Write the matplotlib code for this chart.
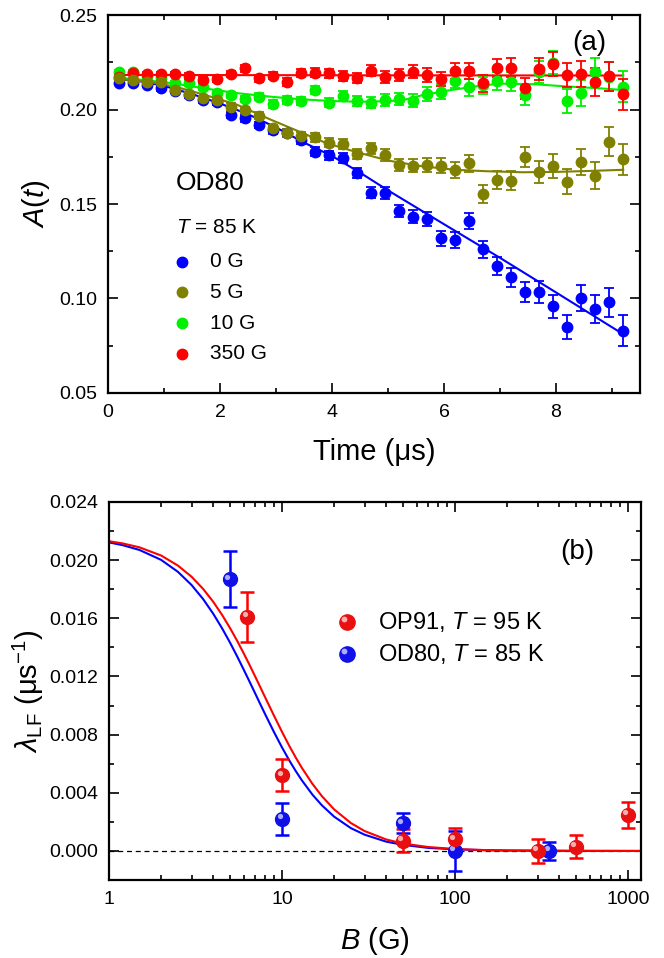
import numpy as np
import matplotlib
matplotlib.use("Agg")
import matplotlib.pyplot as plt
from matplotlib import transforms
from matplotlib.ticker import MultipleLocator, FixedLocator, LogLocator, NullFormatter, FuncFormatter

plt.rcParams['font.family'] = ['Liberation Sans', 'DejaVu Sans']
plt.rcParams['mathtext.fontset'] = 'custom'
plt.rcParams['mathtext.rm'] = 'Liberation Sans'
plt.rcParams['mathtext.it'] = 'Liberation Sans:italic'

# ---------------- panel (a): asymmetry vs time ----------------
time_us = [0.2, 0.45, 0.7, 0.95, 1.2, 1.45, 1.7, 1.95, 2.2, 2.45, 2.7, 2.95,
           3.2, 3.45, 3.7, 3.95, 4.2, 4.45, 4.7, 4.95, 5.2, 5.45, 5.7, 5.95,
           6.2, 6.45, 6.7, 6.95, 7.2, 7.45, 7.7, 7.95, 8.2, 8.45, 8.7, 8.95, 9.2]

a_0G = [0.2142, 0.2142, 0.2130, 0.2112, 0.2100, 0.2077, 0.2050, 0.2041, 0.1971, 0.1953,
        0.1918, 0.1892, 0.1874, 0.1839, 0.1777, 0.1759, 0.1742, 0.1666, 0.1560, 0.1560,
        0.1463, 0.1433, 0.1421, 0.1319, 0.1310, 0.1412, 0.1260, 0.1174, 0.1112, 0.1033,
        0.1036, 0.0960, 0.0849, 0.1004, 0.0943, 0.0980, 0.0828]
a_5G = [0.2165, 0.2156, 0.2147, 0.2144, 0.2103, 0.2080, 0.2059, 0.2050, 0.2015, 0.1997,
        0.1967, 0.1900, 0.1874, 0.1860, 0.1853, 0.1824, 0.1817, 0.1765, 0.1795, 0.1759,
        0.1706, 0.1703, 0.1706, 0.1703, 0.1680, 0.1715, 0.1553, 0.1627, 0.1623, 0.1750,
        0.1671, 0.1701, 0.1618, 0.1724, 0.1650, 0.1830, 0.1736]
a_10G = [0.2200, 0.2200, 0.2177, 0.2165, 0.2139, 0.2139, 0.2117, 0.2086, 0.2077, 0.2056,
         0.2068, 0.2029, 0.2050, 0.2044, 0.2103, 0.2036, 0.2071, 0.2047, 0.2036, 0.2050,
         0.2054, 0.2047, 0.2082, 0.2095, 0.2153, 0.2117, 0.2128, 0.2153, 0.2148, 0.2077,
         0.2200, 0.2248, 0.2045, 0.2086, 0.2200, 0.2174, 0.2120]
a_350G = [0.2174, 0.2195, 0.2188, 0.2188, 0.2188, 0.2177, 0.2156, 0.2161, 0.2188, 0.2218,
          0.2165, 0.2179, 0.2147, 0.2195, 0.2195, 0.2191, 0.2177, 0.2165, 0.2205, 0.2174,
          0.2183, 0.2200, 0.2183, 0.2161, 0.2205, 0.2205, 0.2139, 0.2221, 0.2221, 0.2112,
          0.2214, 0.2241, 0.2183, 0.2188, 0.2147, 0.2177, 0.2080]
a_err = [0.0011, 0.0011, 0.0012, 0.0012, 0.0013, 0.0014, 0.0015, 0.0016, 0.0017, 0.0017,
         0.0018, 0.0019, 0.0021, 0.0022, 0.0023, 0.0024, 0.0026, 0.0027, 0.0029, 0.0031,
         0.0032, 0.0034, 0.0036, 0.0039, 0.0041, 0.0043, 0.0046, 0.0048, 0.0051, 0.0054,
         0.0058, 0.0061, 0.0065, 0.0069, 0.0073, 0.0077, 0.0082]

fit_t_0G = [0.2, 0.6, 1.0, 1.5, 2.0, 2.5, 3.0, 3.5, 4.0, 4.5, 5.0, 6.0, 7.0, 8.0, 9.2]
fit_0G = [0.2160, 0.2148, 0.2125, 0.2082, 0.2032, 0.1975, 0.1905, 0.1825, 0.1754, 0.1666,
          0.1572, 0.1393, 0.1215, 0.1032, 0.0811]
fit_t_5G = [0.2, 0.7, 1.2, 1.7, 2.3, 2.9, 3.4, 3.9, 4.4, 5.0, 5.6, 6.2, 6.8, 7.4, 8.0, 8.6, 9.2]
fit_5G = [0.2161, 0.2148, 0.2121, 0.2080, 0.2026, 0.1947, 0.1885, 0.1822, 0.1778, 0.1730,
          0.1700, 0.1681, 0.1673, 0.1668, 0.1670, 0.1675, 0.1681]
fit_t_10G = [0.2, 0.7, 1.2, 1.7, 2.3, 2.9, 3.4, 4.0, 4.5, 5.0, 5.3, 5.6, 6.1, 6.6, 7.0,
             7.6, 8.2, 8.8, 9.2]
fit_10G = [0.2168, 0.2155, 0.2137, 0.2113, 0.2087, 0.2068, 0.2055, 0.2045, 0.2041, 0.2044,
           0.2052, 0.2075, 0.2102, 0.2124, 0.2137, 0.2134, 0.2122, 0.2112, 0.2103]
fit_t_350G = [0.2, 4.7, 9.2]
fit_350G = [0.2183, 0.2181, 0.2180]

series_a = [
    ("0 G", a_0G, fit_t_0G, fit_0G, "#0000FF"),
    ("10 G", a_10G, fit_t_10G, fit_10G, "#00F000"),
    ("350 G", a_350G, fit_t_350G, fit_350G, "#FF0000"),
    ("5 G", a_5G, fit_t_5G, fit_5G, "#808000"),
]
legend_a = [("0 G", "#0000FF"), ("5 G", "#808000"), ("10 G", "#00F000"), ("350 G", "#FF0000")]

# ---------------- panel (b): relaxation rate vs field ----------------
b_op91 = [6.3, 10, 50, 100, 300, 500, 1000]
lam_op91 = [0.0161, 0.0052, 0.0007, 0.0008, 0.0000, 0.0003, 0.0025]
err_op91 = [0.0017, 0.0011, 0.0008, 0.0008, 0.0008, 0.0008, 0.0009]
b_od80 = [5, 10, 50, 100, 350]
lam_od80 = [0.0187, 0.0022, 0.0019, 0.0000, 0.0000]
err_od80 = [0.0019, 0.0011, 0.0007, 0.0014, 0.0006]

fit_b = [1, 1.2, 1.5, 2, 2.5, 3, 3.5, 4, 4.5, 5, 5.5, 6, 6.5, 7, 7.5, 8, 9, 10, 11, 12,
         13, 15, 17, 20, 25, 30, 40, 50, 70, 100, 150, 200, 500, 1200]
fit_op91 = [0.02130, 0.02115, 0.02088, 0.02032, 0.01963, 0.01886, 0.01802, 0.01714,
            0.01624, 0.01534, 0.01446, 0.01360, 0.01278, 0.01199, 0.01125, 0.01055,
            0.00929, 0.00819, 0.00724, 0.00643, 0.00573, 0.00461, 0.00377, 0.00286,
            0.00192, 0.00137, 0.00079, 0.00051, 0.00027, 0.00013, 0.00006, 0.00003,
            0.00001, 0.00000]
fit_od80 = [0.02122, 0.02103, 0.02070, 0.02002, 0.01920, 0.01829, 0.01732, 0.01632,
            0.01532, 0.01434, 0.01339, 0.01248, 0.01163, 0.01083, 0.01008, 0.00939,
            0.00816, 0.00712, 0.00624, 0.00550, 0.00487, 0.00387, 0.00314, 0.00236,
            0.00157, 0.00112, 0.00064, 0.00042, 0.00021, 0.00011, 0.00005, 0.00003,
            0.00000, 0.00000]


def style_axes(ax):
    for sp in ax.spines.values():
        sp.set_linewidth(1.6)
    ax.tick_params(which='both', direction='in', top=True, right=True, width=1.2,
                   labelsize=14)
    ax.tick_params(which='major', length=7, pad=8)
    ax.tick_params(which='minor', length=3.5)


def sphere(ax, x, y, base, light, size, trans=None, z=5):
    # shaded ball: dark body plus a light highlight shifted up-left
    if trans is None:
        trans = ax.transData
    ax.plot(x, y, 'o', ms=size, color=base, mec=base, transform=trans, zorder=z,
            linestyle='none')
    off = transforms.offset_copy(trans, fig=ax.figure, x=-size * 0.18, y=size * 0.18,
                                 units='points')
    ax.plot(x, y, 'o', ms=size * 0.38, color=light, mec='none', transform=off,
            zorder=z + 0.1, alpha=0.85, linestyle='none')


fig = plt.figure(figsize=(6.64, 9.58), dpi=100)

# ---- panel (a)
ax1 = fig.add_axes([0.1627, 0.5898, 0.8012, 0.3945])
for lab, vals, ft, fv, col in series_a:
    ax1.plot(ft, fv, '-', color=col, lw=1.5, zorder=2)
for lab, vals, ft, fv, col in series_a:
    ax1.errorbar(time_us, vals, yerr=a_err, fmt='o', ms=7.5, color=col, mec=col,
                 ecolor=col, elinewidth=1.3, capsize=3.5, capthick=1.3, zorder=3)

ax1.set_xlim(0, 9.5)
ax1.set_ylim(0.05, 0.25)
ax1.xaxis.set_major_locator(MultipleLocator(2))
ax1.xaxis.set_minor_locator(MultipleLocator(1))
ax1.yaxis.set_major_locator(MultipleLocator(0.05))
ax1.yaxis.set_minor_locator(MultipleLocator(0.025))
ax1.yaxis.set_major_formatter(FuncFormatter(lambda v, p: f"{v:.2f}"))
style_axes(ax1)
ax1.set_xlabel('Time (μs)', fontsize=21, labelpad=12)
ax1.set_ylabel(r'$A$($t$)', fontsize=21, labelpad=5)

ax1.text(0.904, 0.926, '(a)', transform=ax1.transAxes, fontsize=20, ha='center', va='center')
ax1.text(0.128, 0.556, 'OD80', transform=ax1.transAxes, fontsize=19, ha='left', va='center')
ax1.text(0.128, 0.437, r'$T$ = 85 K', transform=ax1.transAxes, fontsize=15, ha='left', va='center')
for i, (lab, col) in enumerate(legend_a):
    yy = 0.347 - i * 0.081
    ax1.plot([0.139], [yy], 'o', ms=7.5, color=col, transform=ax1.transAxes)
    ax1.text(0.192, yy, lab, transform=ax1.transAxes, fontsize=15, ha='left', va='center')

# ---- panel (b)
ax2 = fig.add_axes([0.1642, 0.0814, 0.8012, 0.3946])
ax2.set_xscale('log')
ax2.axhline(0, color='black', lw=0.9, ls=(0, (4, 3)), zorder=1)
ax2.plot(fit_b, fit_od80, '-', color='#0000FF', lw=1.5, zorder=2)
ax2.plot(fit_b, fit_op91, '-', color='#FF0000', lw=1.5, zorder=2)

ax2.errorbar(b_od80, lam_od80, yerr=err_od80, fmt='none', ecolor='#0000FF',
             elinewidth=1.8, capsize=5, capthick=1.8, zorder=3)
ax2.errorbar(b_op91, lam_op91, yerr=err_op91, fmt='none', ecolor='#FF0000',
             elinewidth=1.8, capsize=5, capthick=1.8, zorder=3)
sphere(ax2, b_od80, lam_od80, '#1010E8', '#C8C8FF', 10)
sphere(ax2, b_op91, lam_op91, '#E81010', '#FFC8C8', 10, z=6)

ax2.set_xlim(1, 1190)
ax2.set_ylim(-0.002, 0.024)
ax2.xaxis.set_major_locator(FixedLocator([1, 10, 100, 1000]))
ax2.xaxis.set_major_formatter(FuncFormatter(lambda v, p: f"{v:g}"))
ax2.xaxis.set_minor_locator(LogLocator(base=10, subs=np.arange(2, 10)))
ax2.xaxis.set_minor_formatter(NullFormatter())
ax2.yaxis.set_major_locator(MultipleLocator(0.004))
ax2.yaxis.set_minor_locator(MultipleLocator(0.002))
ax2.yaxis.set_major_formatter(FuncFormatter(lambda v, p: f"{v:.3f}"))
style_axes(ax2)
ax2.set_xlabel(r'$B$ (G)', fontsize=21, labelpad=12)
ax2.set_ylabel(r'$\lambda_{\rm LF}$ (μs$^{-1}$)', fontsize=21, labelpad=2)

ax2.text(0.881, 0.868, '(b)', transform=ax2.transAxes, fontsize=20, ha='center', va='center')
legend_b = [("OP91, ", "95 K", '#E81010', '#FFC8C8'), ("OD80, ", "85 K", '#1010E8', '#C8C8FF')]
for i, (name, temp, base, light) in enumerate(legend_b):
    yy = 0.683 - i * 0.085
    sphere(ax2, [0.447], [yy], base, light, 11, trans=ax2.transAxes)
    ax2.text(0.505, yy, name + r'$T$ = ' + temp, transform=ax2.transAxes, fontsize=17,
             ha='left', va='center')

fig.savefig('out.png', dpi=100)
